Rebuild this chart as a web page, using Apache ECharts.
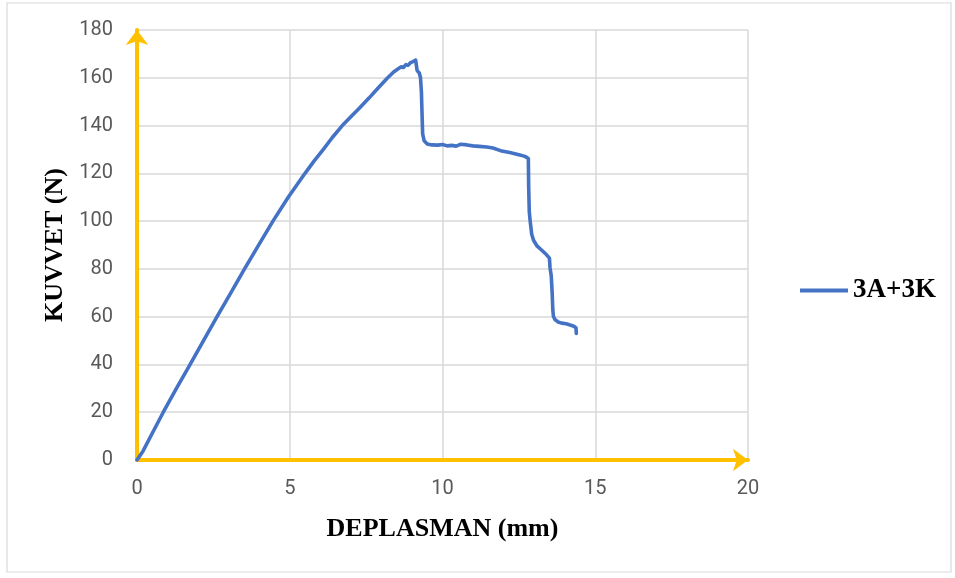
<!DOCTYPE html>
<html>
<head>
<meta charset="utf-8">
<script src="https://cdn.jsdelivr.net/npm/echarts@6/dist/echarts.min.js"></script>
<style>
  html, body { margin: 0; padding: 0; background: #ffffff; }
  #chart { width: 955px; height: 578px; }
</style>
</head>
<body>
<div id="chart"></div>
<script>
// Load–displacement curve of specimen 3A+3K
const seriesName = '3A+3K';
const displacement = [
  0, 0.05, 0.2, 0.5, 0.86, 1.3, 1.74, 2.2, 2.62, 3.08, 3.52, 4.0, 4.45, 4.95, 5.5,
  5.8, 6.1, 6.4, 6.72, 7.0, 7.3, 7.6, 7.9, 8.19, 8.4, 8.55, 8.65, 8.72, 8.8, 8.87,
  8.95, 9.02, 9.07, 9.12, 9.14, 9.17, 9.24, 9.28, 9.31, 9.33, 9.35, 9.4, 9.5,
  9.65, 9.85, 10.0, 10.15, 10.3, 10.45, 10.6, 10.8, 11.0, 11.2, 11.45, 11.65,
  11.9, 12.2, 12.5, 12.7, 12.81, 12.82, 12.84, 12.87, 12.92, 12.98, 13.1, 13.25,
  13.4, 13.5, 13.52, 13.56, 13.59, 13.61, 13.63, 13.68, 13.78, 13.9, 14.05, 14.2,
  14.3, 14.37, 14.39, 14.38
];
const force = [
  0, 0.8, 3.8, 11.2, 20, 30.2, 40, 50.5, 60, 70.2, 80, 90.4, 100, 110, 120,
  125.2, 130, 135.1, 140, 143.7, 147.6, 151.6, 155.8, 159.8, 162.4, 163.8, 164.6,
  164.3, 165.5, 165.2, 166.3, 166.7, 166.3, 167.4, 167.1, 163, 162, 160, 154, 145,
  136.5, 133.6, 132.3, 131.9, 131.8, 132.1, 131.5, 131.7, 131.4, 132.2, 131.9,
  131.5, 131.3, 131, 130.6, 129.5, 128.7, 127.8, 127.1, 126.2, 115, 104, 100,
  94.5, 92, 89.5, 87.8, 86, 84.5, 80.5, 77, 70, 63, 60.2, 58.8, 57.8, 57.3, 57,
  56.4, 56, 55.3, 54.5, 53
];
const xTicks = { min: 0, max: 20, interval: 5 };
const yTicks = { min: 0, max: 180, interval: 20 };

const points = displacement.map((d, i) => [d, force[i]]);

const tickFont = "'Liberation Sans Narrow', 'Roboto', sans-serif";
const titleFont = "'Liberation Serif', 'DejaVu Serif', serif";
const axisColor = '#FFC000';
const lineColor = '#4472C4';

const chart = echarts.init(document.getElementById('chart'), null, { renderer: 'canvas' });
chart.setOption({
  backgroundColor: '#ffffff',
  animation: false,
  graphic: [{
    type: 'rect',
    shape: { x: 7, y: 3, width: 944, height: 569 },
    style: { fill: 'none', stroke: '#D9D9D9', lineWidth: 1.2 },
    z: -1
  }],
  grid: { left: 137, right: 207, top: 30, bottom: 118, containLabel: false },
  legend: {
    data: [{ name: seriesName, icon: 'rect' }],
    left: 795,
    top: 272,
    itemWidth: 48,
    itemHeight: 4,
    itemGap: 6,
    itemStyle: { color: lineColor },
    textStyle: { fontFamily: titleFont, fontWeight: 'bold', fontSize: 27, color: '#000000' }
  },
  xAxis: {
    type: 'value',
    min: xTicks.min, max: xTicks.max, interval: xTicks.interval,
    name: 'DEPLASMAN (mm)',
    nameLocation: 'middle',
    nameGap: 56,
    nameTextStyle: { fontFamily: titleFont, fontWeight: 'bold', fontSize: 26, color: '#000000' },
    axisLine: {
      show: true, onZero: false,
      symbol: ['none', 'arrow'], symbolSize: [17, 15],
      lineStyle: { color: axisColor, width: 4 }
    },
    axisTick: { show: false },
    axisLabel: { margin: 19, fontFamily: tickFont, fontSize: 20, color: '#595959' },
    splitLine: { show: true, lineStyle: { color: '#D9D9D9', width: 1.5 } }
  },
  yAxis: {
    type: 'value',
    min: yTicks.min, max: yTicks.max, interval: yTicks.interval,
    name: 'KUVVET (N)',
    nameLocation: 'middle',
    nameGap: 67,
    nameRotate: 90,
    nameTextStyle: { fontFamily: titleFont, fontWeight: 'bold', fontSize: 26, color: '#000000' },
    axisLine: {
      show: true, onZero: false,
      symbol: ['none', 'arrow'], symbolSize: [17, 15],
      lineStyle: { color: axisColor, width: 4 }
    },
    axisTick: { show: false },
    axisLabel: { margin: 24, fontFamily: tickFont, fontSize: 20, color: '#595959' },
    splitLine: { show: true, lineStyle: { color: '#D9D9D9', width: 1.5 } }
  },
  series: [{
    name: seriesName,
    type: 'line',
    data: points,
    showSymbol: false,
    symbol: 'none',
    smooth: false,
    lineStyle: { color: lineColor, width: 3.6, cap: 'round', join: 'round' },
    itemStyle: { color: lineColor },
    z: 3
  }]
});
</script>
</body>
</html>
